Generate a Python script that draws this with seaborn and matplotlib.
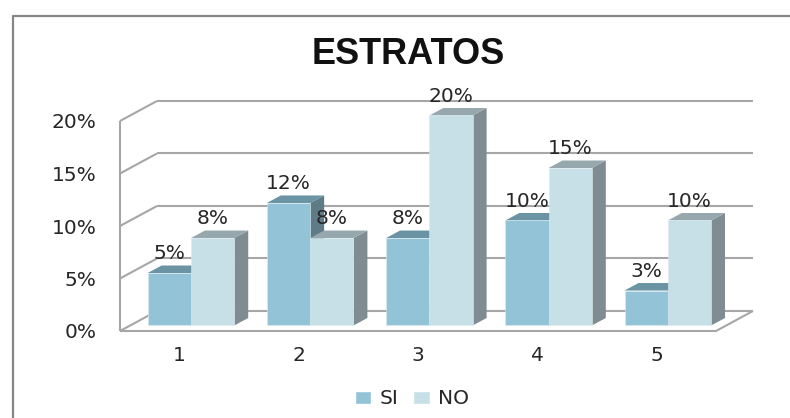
import numpy as np
import pandas as pd
import seaborn as sns
import matplotlib.pyplot as plt
from matplotlib.lines import Line2D
from matplotlib.patches import Patch, Polygon

categories = ['1', '2', '3', '4', '5']
si_values = [5, 11.67, 8.33, 10, 3.33]
no_values = [8.33, 8.33, 20, 15, 10]
y_ticks = [0, 5, 10, 15, 20]

W, H = 790, 418
FRONT = {'SI': '#92C3D6', 'NO': '#C7DFE7'}
TOP = {'SI': '#6A93A3', 'NO': '#96A8AE'}
SIDE = {'SI': '#5F7B86', 'NO': '#7F8C91'}
GRID = '#A6A6A6'
TEXT = '#262626'

# fake 3d depth, in data units
wall_dx, wall_dy = 0.31, 1.905
bar_dx, bar_dy = 0.117, 0.714
y_inset = 0.524    # bars stand a little behind the front edge of the floor
x_shift = 0.0956   # same thing sideways

df = pd.DataFrame({
    'estrato': categories * 2,
    'serie': ['SI'] * 5 + ['NO'] * 5,
    'valor': si_values + no_values,
})

sns.set_theme(style='white')
plt.rcParams['font.family'] = ['DejaVu Sans']

fig = plt.figure(figsize=(W / 100, H / 100), dpi=100)
ax = fig.add_axes([120 / W, (H - 331) / H, 596 / W, 210 / H])

sns.barplot(data=df, x='estrato', y='valor', hue='serie', order=categories,
            hue_order=['SI', 'NO'], palette=FRONT, saturation=1, width=0.726,
            gap=0, dodge=True, legend=False, errorbar=None, ax=ax)

ax.set_xlim(-0.5 - x_shift, 4.5 - x_shift)
ax.set_ylim(-y_inset, 20 - y_inset)
sns.despine(ax=ax, left=True, bottom=True)
ax.set_xlabel('')
ax.set_ylabel('')

# depth faces of every bar
for level, (name, container) in enumerate(zip(['SI', 'NO'], ax.containers)):
    for bar in container:
        x0, x1 = bar.get_x(), bar.get_x() + bar.get_width()
        top = bar.get_height()
        bar.set_zorder(2.5 + level)
        bar.set_edgecolor('#DCEBF0')
        bar.set_linewidth(0.4)
        bar.set_clip_on(False)
        ax.add_patch(Polygon([(x1, 0), (x1 + bar_dx, bar_dy), (x1 + bar_dx, top + bar_dy), (x1, top)],
                             facecolor=SIDE[name], edgecolor='none', zorder=2 + level, clip_on=False))
        ax.add_patch(Polygon([(x0, top), (x0 + bar_dx, top + bar_dy), (x1 + bar_dx, top + bar_dy), (x1, top)],
                             facecolor=TOP[name], edgecolor='none', zorder=2 + level, clip_on=False))
    ax.bar_label(container, labels=[f'{round(b.get_height())}%' for b in container],
                 padding=7, fontsize=14.5, color=TEXT)
for txt in ax.texts:
    txt.set_zorder(6)
    txt.set_annotation_clip(False)  # the 20% label sits above the axes box

# walls and floor
x_left, x_right = ax.get_xlim()
line_kw = dict(color=GRID, lw=1.5, zorder=1, clip_on=False, solid_capstyle='butt')
for v in y_ticks:
    y = v - y_inset
    ax.plot([x_left, x_left + wall_dx], [y, y + wall_dy], **line_kw)
    ax.plot([x_left + wall_dx, x_right + wall_dx], [y + wall_dy, y + wall_dy], **line_kw)
ax.plot([x_left, x_left], [-y_inset, 20 - y_inset], **line_kw)
ax.plot([x_left, x_right, x_right + wall_dx], [-y_inset, -y_inset, wall_dy - y_inset], **line_kw)

ax.set_xticks(np.arange(5) - x_shift, categories)
ax.set_yticks([v - y_inset for v in y_ticks], [f'{v}%' for v in y_ticks])
ax.tick_params(axis='x', length=0, pad=11, labelsize=14.5, labelcolor=TEXT)
ax.tick_params(axis='y', length=0, pad=17, labelsize=14.5, labelcolor=TEXT)

fig.text(408 / W, 1 - 54 / H, 'ESTRATOS', ha='center', va='center', fontsize=26,
         fontweight='bold', family='Liberation Sans', color='#111111')

handles = [Patch(facecolor=FRONT['SI'], label='SI'), Patch(facecolor=FRONT['NO'], label='NO')]
fig.legend(handles=handles, loc='center', bbox_to_anchor=(412 / W, 1 - 399 / H), ncol=2,
           frameon=False, fontsize=14.5, handlelength=0.8, handleheight=0.6,
           handletextpad=0.4, columnspacing=0.75, labelcolor=TEXT)

# chart border, open at the bottom and right like the source
fig.add_artist(Line2D([12.5 / W, 12.5 / W, 1], [0, 1 - 16 / H, 1 - 16 / H], color='#868686', lw=1.6))

fig.savefig('out.png', dpi=100)
plt.close(fig)
